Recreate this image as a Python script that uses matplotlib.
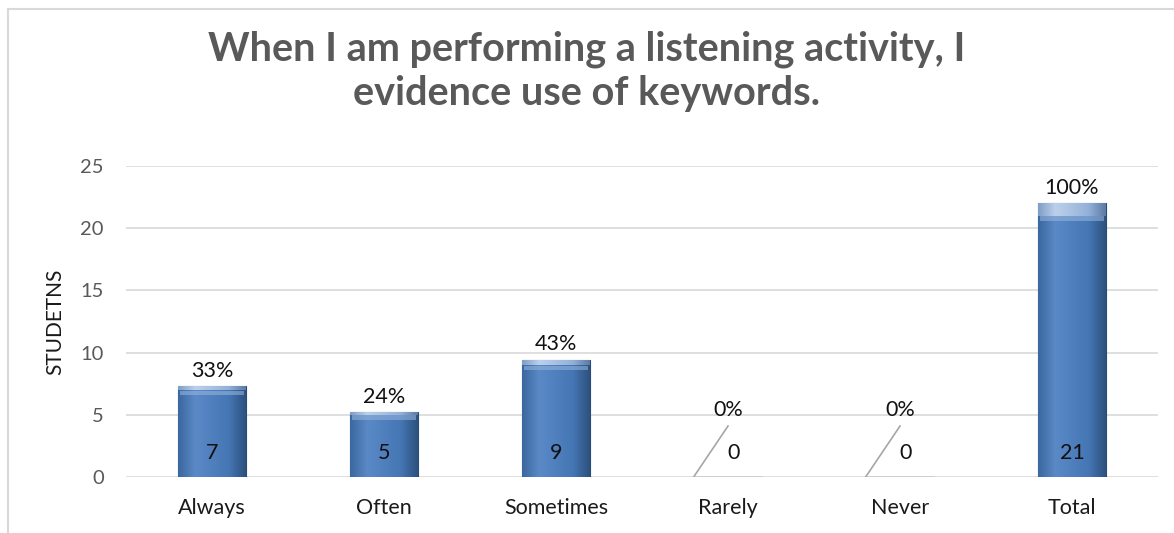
import numpy as np
import matplotlib.pyplot as plt
from matplotlib.colors import LinearSegmentedColormap

categories = ["Always", "Often", "Sometimes", "Rarely", "Never", "Total"]
counts = [7, 5, 9, 0, 0, 21]
shares = [0.33, 0.24, 0.43, 0.0, 0.0, 1.0]
share_labels = ["33%", "24%", "43%", "0%", "0%", "100%"]
yticks = [0, 5, 10, 15, 20, 25]

title = "When I am performing a listening activity, I\nevidence use of keywords."

plt.rcParams["font.family"] = ["Lato", "DejaVu Sans"]

fig = plt.figure(figsize=(11.74, 5.33), dpi=100)
ax = fig.add_axes([0.1073, 0.105, 0.8791, 0.5836])

x = np.arange(len(categories))
width = 0.39

body = LinearSegmentedColormap.from_list(
    "body", ["#3b679f", "#5a8ac6", "#4f7fbd", "#4677b5", "#2d527f"])
cap = LinearSegmentedColormap.from_list(
    "cap", ["#7f9fc8", "#bcd0ea", "#a9c1e2", "#93b0d8", "#5d7da6"])
grad = np.linspace(0, 1, 64).reshape(1, -1)


def shade(patches, cmap):
    for p in patches:
        if p.get_height() <= 0:
            continue
        x0, y0 = p.get_x(), p.get_y()
        w, h = p.get_width(), p.get_height()
        im = ax.imshow(grad, cmap=cmap, aspect="auto", zorder=3,
                       extent=[x0, x0 + w, y0, y0 + h], interpolation="bicubic")
        im.set_clip_path(p)


bars = ax.bar(x, counts, width, color="#4f81bd", edgecolor="#2a4a73",
              linewidth=0.8, zorder=2)
shade(bars, body)
# light bevel along the top edge of each body bar
ax.bar(x, [0.35 if c > 0 else 0 for c in counts], width * 0.96,
       bottom=[c - 0.4 for c in counts], color="#9ab8e0", alpha=0.55,
       linewidth=0, zorder=4)

caps = ax.bar(x, shares, width, bottom=counts, color="#a9c1e2",
              edgecolor="#2a4a73", linewidth=0.8, zorder=2)
shade(caps, cap)

ax.set_xlim(-0.5, len(categories) - 0.5)
ax.set_ylim(0, 25)
ax.set_yticks(yticks)
ax.yaxis.grid(True, color="#d9d9d9", linewidth=1.2, zorder=0)
ax.set_axisbelow(True)
for s in ax.spines.values():
    s.set_visible(False)
ax.tick_params(length=0)
ax.tick_params(axis="y", labelsize=14.5, labelcolor="#595959", pad=16)
ax.tick_params(axis="x", labelsize=15.5, labelcolor="#1a1a1a", pad=15)
ax.set_xticks(x)
ax.set_xticklabels(categories)
ax.set_ylabel("STUDETNS", fontsize=15, color="#1a1a1a", labelpad=11)

lab_size = 15.5
for i, (c, s, lab) in enumerate(zip(counts, shares, share_labels)):
    if c > 0:
        ax.text(x[i], 1.9, str(c), ha="center", va="center", fontsize=lab_size,
                color="#111111", zorder=6)
        ax.annotate(lab, (x[i], c + s), xytext=(0, 11), textcoords="offset points",
                    ha="center", va="center", fontsize=lab_size, color="#111111")
    else:
        # zero bars: labels lifted off the axis with a leader line
        ax.text(x[i] + 0.03, 1.9, str(c), ha="center", va="center",
                fontsize=lab_size, color="#111111")
        ax.text(x[i], 5.4, lab, ha="center", va="center", fontsize=lab_size,
                color="#111111")
        ax.plot([x[i] - 0.2, x[i]], [0, 4.1], color="#a6a6a6", linewidth=1.2,
                zorder=5)

fig.text(0.5, 0.866, title, ha="center", va="center", fontsize=28.5,
         fontweight="bold", color="#595959", linespacing=1.25)

# chart area border (top and left edges)
fig.add_artist(plt.Line2D([8 / 1174, 1], [1 - 9 / 533] * 2, color="#d9d9d9",
                          linewidth=1.5, transform=fig.transFigure))
fig.add_artist(plt.Line2D([8 / 1174] * 2, [0, 1 - 9 / 533], color="#d9d9d9",
                          linewidth=1.5, transform=fig.transFigure))

fig.savefig("out.png", dpi=100)
